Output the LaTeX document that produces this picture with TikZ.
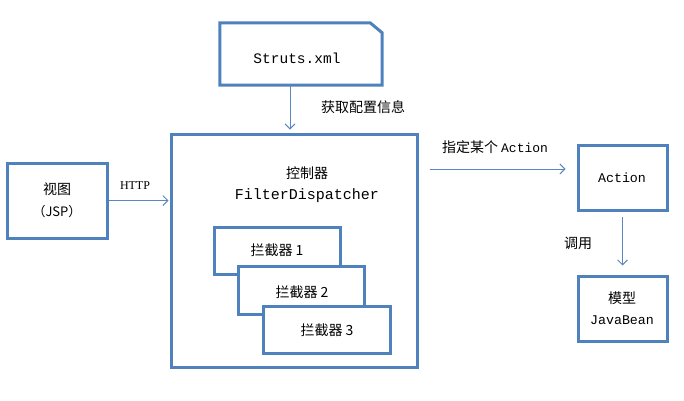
\documentclass[tikz,border=0pt]{standalone}
\usepackage{fontspec}
\setmainfont{Liberation Serif}
\setmonofont{Liberation Mono}
\newfontfamily\cjk{Noto Sans CJK SC}
\usetikzlibrary{arrows.meta}
\definecolor{bblue}{HTML}{4F81BD}
\definecolor{ablue}{HTML}{5B86BE}
\tikzset{
  box/.style={draw=bblue, line width=3pt, fill=white, inner sep=0pt},
  arr/.style={draw=ablue, line width=0.9pt, -{Straight Barb[length=5pt,width=10pt]}},
  cjktext/.style={font=\cjk\fontsize{14}{16}\selectfont, inner sep=0pt},
  monotext/.style={font=\ttfamily\fontsize{14.5}{16}\selectfont, inner sep=0pt},
}
\begin{document}
\begin{tikzpicture}[x=1pt,y=-1pt]
\useasboundingbox (0,0) rectangle (684,400);
% Struts.xml file
\node[inner sep=0pt, minimum width=162pt, minimum height=62pt] (s) at (301,54) {};
\draw[draw=bblue, line width=3pt, fill=white, line join=miter]
  (s.south west) -- (s.north west) -- ([xshift=-12pt]s.north east) -- ([yshift=-10pt]s.north east) -- (s.south east) -- cycle;
\node[monotext] (st) at (297,58) {Struts.xml};
% controller
\node[box, minimum width=246pt, minimum height=233pt] (c) at (294,250.5) {};
\node[cjktext] (ct) at (307,173) {控制器};
\node[monotext, font=\ttfamily\fontsize{15}{16}\selectfont] (cf) at (307,196) {FilterDispatcher};
% interceptors
\node[box, minimum width=126pt, minimum height=47pt] (i1) at (277,250.5) {};
\node[cjktext] (i1t) at (277,250) {拦截器 1};
\node[box, minimum width=126pt, minimum height=48pt] (i2) at (301,290) {};
\node[cjktext] (i2t) at (302,292) {拦截器 2};
\node[box, minimum width=127pt, minimum height=47pt] (i3) at (326.5,329.5) {};
\node[cjktext] (i3t) at (327,330) {拦截器 3};
% view
\node[box, minimum width=100pt, minimum height=75pt] (v) at (57,200.5) {};
\node[cjktext] (vt) at (57,189) {视图};
\node[cjktext, font=\cjk\fontsize{13}{16}\selectfont] (vj) at (57,212) {（JSP）};
% action
\node[box, minimum width=89pt, minimum height=65pt] (a) at (622.5,177.5) {};
\node[monotext, font=\ttfamily\fontsize{13.3}{16}\selectfont] (at) at (622,178) {Action};
% model
\node[box, minimum width=89pt, minimum height=65pt] (m) at (622.5,308.5) {};
\node[cjktext] (mt) at (622,298) {模型};
\node[monotext, font=\ttfamily\fontsize{13.3}{16}\selectfont] (mj) at (622,320) {JavaBean};
% connectors
\coordinate (sx) at (290,0);
\draw[arr, shorten >=3pt] (sx |- s.south) -- (sx |- c.north);
\node[cjktext] (l1) at (363,107) {获取配置信息};
\draw[arr, shorten >=1pt] (v.east) -- (v.east -| c.west);
\node[font=\fontsize{12}{14}\selectfont, inner sep=0pt] (l2) at (135,186) {HTTP};
\coordinate (ay) at (0,169);
\draw[arr, shorten <=11pt, shorten >=11pt] (ay -| c.east) -- (ay -| a.west);
\node[cjktext] (l3) at (495,147) {指定某个 {\ttfamily\fontsize{13}{16}\selectfont Action}};
\draw[arr, shorten <=5pt, shorten >=9pt] (a.south) -- (m.north);
\node[cjktext] (l4) at (578,243) {调用};
\end{tikzpicture}
\end{document}
